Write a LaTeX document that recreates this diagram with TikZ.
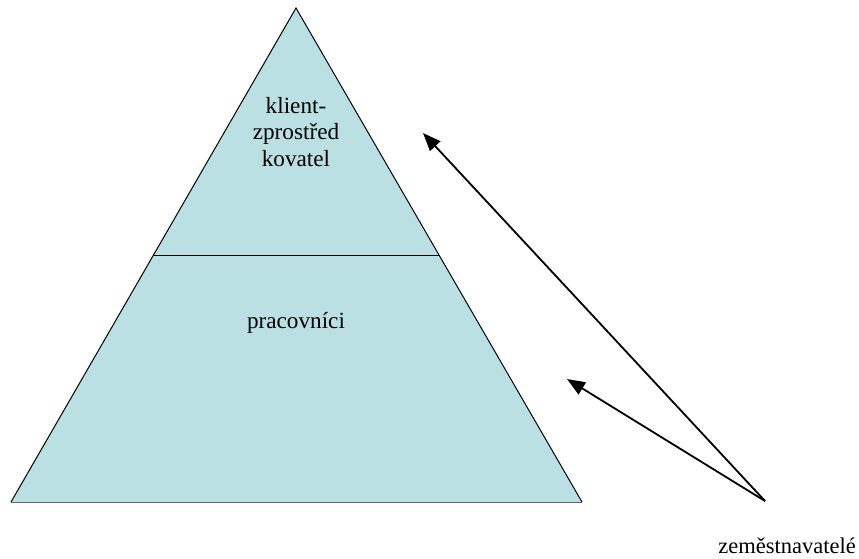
\documentclass[tikz,border=0pt]{standalone}
\usepackage{fontspec}
\setmainfont{Liberation Serif}
\usetikzlibrary{arrows.meta}
\definecolor{pyr}{HTML}{BAE0E3}
\tikzset{
  lbl/.style={font=\fontsize{23.2}{26.5}\selectfont, inner sep=0pt, align=center, anchor=base},
  edge/.style={black, line width=1pt},
  arr/.style={line width=1.8pt, -{Triangle[length=18pt,width=14pt]}}
}
\begin{document}
\begin{tikzpicture}[x=1pt,y=-1pt]
\useasboundingbox (0,0) rectangle (859,558);
\coordinate (apex) at (296,8);
\coordinate (bl) at (11,502);
\coordinate (br) at (582,502);
\coordinate (dl) at (153.5,255);
\coordinate (dr) at (439,255);
\fill[pyr] (apex) -- (bl) -- (br) -- cycle;
\draw[edge] (bl) -- (apex) -- (br);
\draw[gray!80!black, line width=1pt] (bl) -- (br);
\draw[edge] (dl) -- (dr);
\node[lbl] (top) at (296,166) {klient-\\zprostřed\\kovatel};
\node[lbl] (bottom) at (296,328) {pracovníci};
\node[lbl, font=\fontsize{22.5}{26.5}\selectfont, anchor=base east] (emp) at (856,553) {zeměstnavatelé};
\coordinate (src) at (765,501);
\coordinate (t1) at (423,133);
\coordinate (t2) at (567,379);
\draw[arr] (src) -- (t1);
\draw[arr] (src) -- (t2);
\end{tikzpicture}
\end{document}
